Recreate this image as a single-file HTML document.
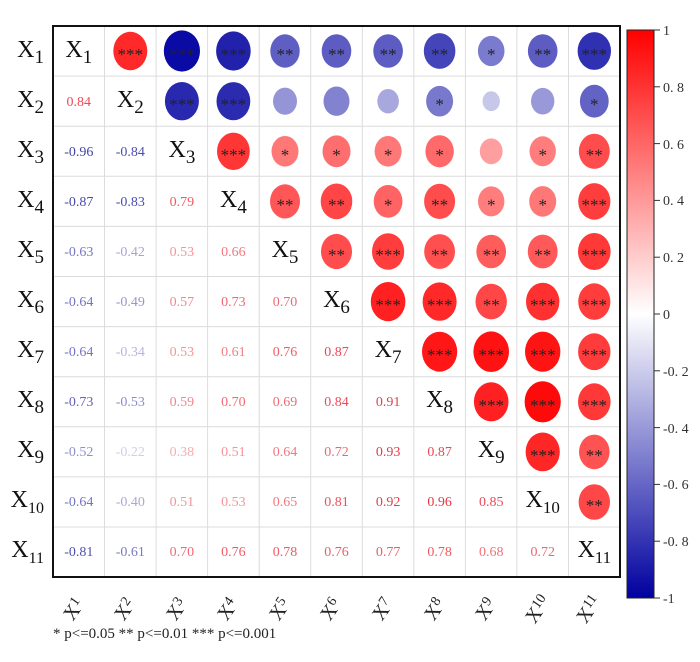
<!DOCTYPE html>
<html><head><meta charset="utf-8"><style>html,body{margin:0;padding:0;background:#fff}svg{display:block}</style></head>
<body>
<svg width="700" height="662" viewBox="0 0 700 662" xmlns="http://www.w3.org/2000/svg" font-family="Liberation Serif, serif">
<defs><linearGradient id="cb" x1="0" y1="0" x2="0" y2="1"><stop offset="0" stop-color="#ff0000"/><stop offset="0.5" stop-color="#ffffff"/><stop offset="1" stop-color="#0000a0"/></linearGradient></defs>
<g stroke="#dcdcdc" stroke-width="1">
<line x1="104.5" y1="26" x2="104.5" y2="577"/><line x1="156.1" y1="26" x2="156.1" y2="577"/><line x1="207.6" y1="26" x2="207.6" y2="577"/><line x1="259.2" y1="26" x2="259.2" y2="577"/><line x1="310.7" y1="26" x2="310.7" y2="577"/><line x1="362.3" y1="26" x2="362.3" y2="577"/><line x1="413.8" y1="26" x2="413.8" y2="577"/><line x1="465.4" y1="26" x2="465.4" y2="577"/><line x1="516.9" y1="26" x2="516.9" y2="577"/><line x1="568.5" y1="26" x2="568.5" y2="577"/>
<line x1="53" y1="76.1" x2="620" y2="76.1"/><line x1="53" y1="126.2" x2="620" y2="126.2"/><line x1="53" y1="176.3" x2="620" y2="176.3"/><line x1="53" y1="226.4" x2="620" y2="226.4"/><line x1="53" y1="276.5" x2="620" y2="276.5"/><line x1="53" y1="326.6" x2="620" y2="326.6"/><line x1="53" y1="376.7" x2="620" y2="376.7"/><line x1="53" y1="426.8" x2="620" y2="426.8"/><line x1="53" y1="476.9" x2="620" y2="476.9"/><line x1="53" y1="527" x2="620" y2="527"/>
</g>
<rect x="53" y="26" width="567" height="551" fill="none" stroke="#111" stroke-width="2"/>
<g>
<ellipse cx="130.3" cy="51" rx="17" ry="19.2" fill="rgb(255,41,41)"/>
<ellipse cx="181.9" cy="51" rx="18.1" ry="20.6" fill="rgb(10,10,164)"/>
<ellipse cx="233.4" cy="51" rx="17.3" ry="19.6" fill="rgb(33,33,172)"/>
<ellipse cx="285" cy="51" rx="14.7" ry="16.7" fill="rgb(94,94,195)"/>
<ellipse cx="336.5" cy="51" rx="14.8" ry="16.8" fill="rgb(92,92,194)"/>
<ellipse cx="388.1" cy="51" rx="14.8" ry="16.8" fill="rgb(92,92,194)"/>
<ellipse cx="439.6" cy="51" rx="15.8" ry="17.9" fill="rgb(69,69,186)"/>
<ellipse cx="491.2" cy="51" rx="13.3" ry="15.1" fill="rgb(122,122,206)"/>
<ellipse cx="542.7" cy="51" rx="14.8" ry="16.8" fill="rgb(92,92,194)"/>
<ellipse cx="594.3" cy="51" rx="16.7" ry="18.9" fill="rgb(48,48,178)"/>
<ellipse cx="181.9" cy="101.2" rx="17" ry="19.2" fill="rgb(41,41,175)"/>
<ellipse cx="233.4" cy="101.2" rx="16.9" ry="19.1" fill="rgb(43,43,176)"/>
<ellipse cx="285" cy="101.2" rx="12" ry="13.6" fill="rgb(148,148,215)"/>
<ellipse cx="336.5" cy="101.2" rx="13" ry="14.7" fill="rgb(130,130,208)"/>
<ellipse cx="388.1" cy="101.2" rx="10.8" ry="12.2" fill="rgb(168,168,223)"/>
<ellipse cx="439.6" cy="101.2" rx="13.5" ry="15.3" fill="rgb(120,120,205)"/>
<ellipse cx="491.2" cy="101.2" rx="8.7" ry="9.9" fill="rgb(199,199,234)"/>
<ellipse cx="542.7" cy="101.2" rx="11.7" ry="13.3" fill="rgb(153,153,217)"/>
<ellipse cx="594.3" cy="101.2" rx="14.4" ry="16.4" fill="rgb(99,99,197)"/>
<ellipse cx="233.4" cy="151.3" rx="16.4" ry="18.7" fill="rgb(255,54,54)"/>
<ellipse cx="285" cy="151.3" rx="13.5" ry="15.3" fill="rgb(255,120,120)"/>
<ellipse cx="336.5" cy="151.3" rx="14" ry="15.9" fill="rgb(255,110,110)"/>
<ellipse cx="388.1" cy="151.3" rx="13.5" ry="15.3" fill="rgb(255,120,120)"/>
<ellipse cx="439.6" cy="151.3" rx="14.2" ry="16.1" fill="rgb(255,105,105)"/>
<ellipse cx="491.2" cy="151.3" rx="11.4" ry="12.9" fill="rgb(255,158,158)"/>
<ellipse cx="542.7" cy="151.3" rx="13.2" ry="15" fill="rgb(255,125,125)"/>
<ellipse cx="594.3" cy="151.3" rx="15.5" ry="17.6" fill="rgb(255,77,77)"/>
<ellipse cx="285" cy="201.4" rx="15" ry="17.1" fill="rgb(255,87,87)"/>
<ellipse cx="336.5" cy="201.4" rx="15.8" ry="17.9" fill="rgb(255,69,69)"/>
<ellipse cx="388.1" cy="201.4" rx="14.4" ry="16.4" fill="rgb(255,99,99)"/>
<ellipse cx="439.6" cy="201.4" rx="15.5" ry="17.6" fill="rgb(255,77,77)"/>
<ellipse cx="491.2" cy="201.4" rx="13.2" ry="15" fill="rgb(255,125,125)"/>
<ellipse cx="542.7" cy="201.4" rx="13.5" ry="15.3" fill="rgb(255,120,120)"/>
<ellipse cx="594.3" cy="201.4" rx="16.1" ry="18.3" fill="rgb(255,61,61)"/>
<ellipse cx="336.5" cy="251.5" rx="15.5" ry="17.6" fill="rgb(255,77,77)"/>
<ellipse cx="388.1" cy="251.5" rx="16.1" ry="18.3" fill="rgb(255,61,61)"/>
<ellipse cx="439.6" cy="251.5" rx="15.4" ry="17.4" fill="rgb(255,79,79)"/>
<ellipse cx="491.2" cy="251.5" rx="14.8" ry="16.8" fill="rgb(255,92,92)"/>
<ellipse cx="542.7" cy="251.5" rx="14.9" ry="16.9" fill="rgb(255,89,89)"/>
<ellipse cx="594.3" cy="251.5" rx="16.3" ry="18.5" fill="rgb(255,56,56)"/>
<ellipse cx="388.1" cy="301.6" rx="17.3" ry="19.6" fill="rgb(255,33,33)"/>
<ellipse cx="439.6" cy="301.6" rx="17" ry="19.2" fill="rgb(255,41,41)"/>
<ellipse cx="491.2" cy="301.6" rx="15.7" ry="17.8" fill="rgb(255,71,71)"/>
<ellipse cx="542.7" cy="301.6" rx="16.7" ry="18.9" fill="rgb(255,48,48)"/>
<ellipse cx="594.3" cy="301.6" rx="16.1" ry="18.3" fill="rgb(255,61,61)"/>
<ellipse cx="439.6" cy="351.7" rx="17.6" ry="20" fill="rgb(255,23,23)"/>
<ellipse cx="491.2" cy="351.7" rx="17.8" ry="20.3" fill="rgb(255,18,18)"/>
<ellipse cx="542.7" cy="351.7" rx="17.7" ry="20.1" fill="rgb(255,20,20)"/>
<ellipse cx="594.3" cy="351.7" rx="16.2" ry="18.4" fill="rgb(255,59,59)"/>
<ellipse cx="491.2" cy="401.8" rx="17.3" ry="19.6" fill="rgb(255,33,33)"/>
<ellipse cx="542.7" cy="401.8" rx="18.1" ry="20.6" fill="rgb(255,10,10)"/>
<ellipse cx="594.3" cy="401.8" rx="16.3" ry="18.5" fill="rgb(255,56,56)"/>
<ellipse cx="542.7" cy="451.9" rx="17.1" ry="19.4" fill="rgb(255,38,38)"/>
<ellipse cx="594.3" cy="451.9" rx="15.3" ry="17.3" fill="rgb(255,82,82)"/>
<ellipse cx="594.3" cy="502" rx="15.7" ry="17.8" fill="rgb(255,71,71)"/>
</g>
<g font-size="17" fill="#222" text-anchor="middle">
<text x="130.3" y="60">***</text><text x="181.9" y="60">***</text><text x="233.4" y="60">***</text><text x="285" y="60">**</text><text x="336.5" y="60">**</text><text x="388.1" y="60">**</text><text x="439.6" y="60">**</text><text x="491.2" y="60">*</text><text x="542.7" y="60">**</text><text x="594.3" y="60">***</text>
<text x="181.9" y="110.2">***</text><text x="233.4" y="110.2">***</text><text x="439.6" y="110.2">*</text><text x="594.3" y="110.2">*</text>
<text x="233.4" y="160.3">***</text><text x="285" y="160.3">*</text><text x="336.5" y="160.3">*</text><text x="388.1" y="160.3">*</text><text x="439.6" y="160.3">*</text><text x="542.7" y="160.3">*</text><text x="594.3" y="160.3">**</text>
<text x="285" y="210.4">**</text><text x="336.5" y="210.4">**</text><text x="388.1" y="210.4">*</text><text x="439.6" y="210.4">**</text><text x="491.2" y="210.4">*</text><text x="542.7" y="210.4">*</text><text x="594.3" y="210.4">***</text>
<text x="336.5" y="260.5">**</text><text x="388.1" y="260.5">***</text><text x="439.6" y="260.5">**</text><text x="491.2" y="260.5">**</text><text x="542.7" y="260.5">**</text><text x="594.3" y="260.5">***</text>
<text x="388.1" y="310.6">***</text><text x="439.6" y="310.6">***</text><text x="491.2" y="310.6">**</text><text x="542.7" y="310.6">***</text><text x="594.3" y="310.6">***</text>
<text x="439.6" y="360.7">***</text><text x="491.2" y="360.7">***</text><text x="542.7" y="360.7">***</text><text x="594.3" y="360.7">***</text>
<text x="491.2" y="410.8">***</text><text x="542.7" y="410.8">***</text><text x="594.3" y="410.8">***</text>
<text x="542.7" y="460.9">***</text><text x="594.3" y="460.9">**</text>
<text x="594.3" y="511">**</text>
</g>
<g font-size="14" text-anchor="middle" fill-opacity="0.85">
<text x="78.8" y="106" fill="rgb(235,41,60)">0.84</text>
<text x="78.8" y="156" fill="rgb(30,30,150)">-0.96</text><text x="130.3" y="156" fill="rgb(45,45,160)">-0.84</text>
<text x="78.8" y="206" fill="rgb(40,40,160)">-0.87</text><text x="130.3" y="206" fill="rgb(45,45,160)">-0.83</text><text x="181.9" y="206" fill="rgb(235,60,70)">0.79</text>
<text x="78.8" y="256" fill="rgb(94,94,185)">-0.63</text><text x="130.3" y="256" fill="rgb(148,148,210)">-0.42</text><text x="181.9" y="256" fill="rgb(240,130,135)">0.53</text><text x="233.4" y="256" fill="rgb(240,95,105)">0.66</text>
<text x="78.8" y="306" fill="rgb(92,92,185)">-0.64</text><text x="130.3" y="306" fill="rgb(130,130,200)">-0.49</text><text x="181.9" y="306" fill="rgb(240,115,120)">0.57</text><text x="233.4" y="306" fill="rgb(235,75,85)">0.73</text><text x="285" y="306" fill="rgb(235,80,90)">0.70</text>
<text x="78.8" y="356" fill="rgb(92,92,185)">-0.64</text><text x="130.3" y="356" fill="rgb(168,168,215)">-0.34</text><text x="181.9" y="356" fill="rgb(240,130,135)">0.53</text><text x="233.4" y="356" fill="rgb(240,105,110)">0.61</text><text x="285" y="356" fill="rgb(235,65,75)">0.76</text><text x="336.5" y="356" fill="rgb(230,40,55)">0.87</text>
<text x="78.8" y="406" fill="rgb(69,69,175)">-0.73</text><text x="130.3" y="406" fill="rgb(120,120,195)">-0.53</text><text x="181.9" y="406" fill="rgb(240,110,118)">0.59</text><text x="233.4" y="406" fill="rgb(235,80,90)">0.70</text><text x="285" y="406" fill="rgb(235,82,92)">0.69</text><text x="336.5" y="406" fill="rgb(230,45,60)">0.84</text><text x="388.1" y="406" fill="rgb(225,30,45)">0.91</text>
<text x="78.8" y="456" fill="rgb(122,122,195)">-0.52</text><text x="130.3" y="456" fill="rgb(199,199,230)">-0.22</text><text x="181.9" y="456" fill="rgb(245,160,165)">0.38</text><text x="233.4" y="456" fill="rgb(240,130,135)">0.51</text><text x="285" y="456" fill="rgb(240,95,105)">0.64</text><text x="336.5" y="456" fill="rgb(235,75,85)">0.72</text><text x="388.1" y="456" fill="rgb(225,25,40)">0.93</text><text x="439.6" y="456" fill="rgb(230,40,55)">0.87</text>
<text x="78.8" y="506" fill="rgb(92,92,185)">-0.64</text><text x="130.3" y="506" fill="rgb(153,153,210)">-0.40</text><text x="181.9" y="506" fill="rgb(240,130,135)">0.51</text><text x="233.4" y="506" fill="rgb(240,130,135)">0.53</text><text x="285" y="506" fill="rgb(240,95,105)">0.65</text><text x="336.5" y="506" fill="rgb(230,50,65)">0.81</text><text x="388.1" y="506" fill="rgb(225,28,42)">0.92</text><text x="439.6" y="506" fill="rgb(225,20,35)">0.96</text><text x="491.2" y="506" fill="rgb(230,42,58)">0.85</text>
<text x="78.8" y="556" fill="rgb(48,48,165)">-0.81</text><text x="130.3" y="556" fill="rgb(99,99,185)">-0.61</text><text x="181.9" y="556" fill="rgb(235,80,90)">0.70</text><text x="233.4" y="556" fill="rgb(235,65,75)">0.76</text><text x="285" y="556" fill="rgb(235,60,70)">0.78</text><text x="336.5" y="556" fill="rgb(235,65,75)">0.76</text><text x="388.1" y="556" fill="rgb(235,62,72)">0.77</text><text x="439.6" y="556" fill="rgb(235,60,70)">0.78</text><text x="491.2" y="556" fill="rgb(240,88,98)">0.68</text><text x="542.7" y="556" fill="rgb(235,75,85)">0.72</text>
</g>
<g font-size="24" fill="#111" text-anchor="middle">
<text x="78.8" y="57">X<tspan font-size="19" dy="6">1</tspan></text>
<text x="130.3" y="107">X<tspan font-size="19" dy="6">2</tspan></text>
<text x="181.9" y="157">X<tspan font-size="19" dy="6">3</tspan></text>
<text x="233.4" y="207">X<tspan font-size="19" dy="6">4</tspan></text>
<text x="285" y="257">X<tspan font-size="19" dy="6">5</tspan></text>
<text x="336.5" y="307">X<tspan font-size="19" dy="6">6</tspan></text>
<text x="388.1" y="357">X<tspan font-size="19" dy="6">7</tspan></text>
<text x="439.6" y="407">X<tspan font-size="19" dy="6">8</tspan></text>
<text x="491.2" y="457">X<tspan font-size="19" dy="6">9</tspan></text>
<text x="542.7" y="507">X<tspan font-size="17" dy="6">10</tspan></text>
<text x="594.3" y="557">X<tspan font-size="17" dy="6">11</tspan></text>
</g>
<g font-size="24" fill="#111" text-anchor="end">
<text x="44" y="57">X<tspan font-size="19" dy="6">1</tspan></text>
<text x="44" y="107">X<tspan font-size="19" dy="6">2</tspan></text>
<text x="44" y="157">X<tspan font-size="19" dy="6">3</tspan></text>
<text x="44" y="207">X<tspan font-size="19" dy="6">4</tspan></text>
<text x="44" y="257">X<tspan font-size="19" dy="6">5</tspan></text>
<text x="44" y="307">X<tspan font-size="19" dy="6">6</tspan></text>
<text x="44" y="357">X<tspan font-size="19" dy="6">7</tspan></text>
<text x="44" y="407">X<tspan font-size="19" dy="6">8</tspan></text>
<text x="44" y="457">X<tspan font-size="19" dy="6">9</tspan></text>
<text x="44" y="507">X<tspan font-size="16" dy="6">10</tspan></text>
<text x="44" y="557">X<tspan font-size="16" dy="6">11</tspan></text>
</g>
<g font-size="20" fill="#222" text-anchor="middle">
<text transform="translate(79,613) rotate(-55)">X<tspan font-size="14" dy="-6">1</tspan></text>
<text transform="translate(130,613) rotate(-55)">X<tspan font-size="14" dy="-6">2</tspan></text>
<text transform="translate(182,613) rotate(-55)">X<tspan font-size="14" dy="-6">3</tspan></text>
<text transform="translate(233,613) rotate(-55)">X<tspan font-size="14" dy="-6">4</tspan></text>
<text transform="translate(285,613) rotate(-55)">X<tspan font-size="14" dy="-6">5</tspan></text>
<text transform="translate(336,613) rotate(-55)">X<tspan font-size="14" dy="-6">6</tspan></text>
<text transform="translate(388,613) rotate(-55)">X<tspan font-size="14" dy="-6">7</tspan></text>
<text transform="translate(440,613) rotate(-55)">X<tspan font-size="14" dy="-6">8</tspan></text>
<text transform="translate(491,613) rotate(-55)">X<tspan font-size="14" dy="-6">9</tspan></text>
<text transform="translate(543,613) rotate(-55)">X<tspan font-size="14" dy="-6">10</tspan></text>
<text transform="translate(594,613) rotate(-55)">X<tspan font-size="14" dy="-6">11</tspan></text>
</g>
<text x="53" y="638" font-size="15" fill="#222">* p&lt;=0.05  ** p&lt;=0.01  *** p&lt;=0.001</text>
<rect x="627" y="30" width="27" height="568" fill="url(#cb)" stroke="#222" stroke-width="1"/>
<g stroke="#333" stroke-width="1">
<line x1="654" y1="30" x2="660" y2="30"/><line x1="654" y1="86.8" x2="660" y2="86.8"/><line x1="654" y1="143.6" x2="660" y2="143.6"/><line x1="654" y1="200.4" x2="660" y2="200.4"/><line x1="654" y1="257.2" x2="660" y2="257.2"/><line x1="654" y1="314" x2="660" y2="314"/><line x1="654" y1="370.8" x2="660" y2="370.8"/><line x1="654" y1="427.6" x2="660" y2="427.6"/><line x1="654" y1="484.4" x2="660" y2="484.4"/><line x1="654" y1="541.2" x2="660" y2="541.2"/><line x1="654" y1="598" x2="660" y2="598"/>
</g>
<g font-size="14" fill="#333">
<text x="663" y="35">1</text><text x="663" y="92">0. 8</text><text x="663" y="149">0. 6</text><text x="663" y="205">0. 4</text><text x="663" y="262">0. 2</text><text x="663" y="319">0</text><text x="663" y="376">-0. 2</text><text x="663" y="433">-0. 4</text><text x="663" y="489">-0. 6</text><text x="663" y="546">-0. 8</text><text x="663" y="603">-1</text>
</g>
</svg>
</body></html>
